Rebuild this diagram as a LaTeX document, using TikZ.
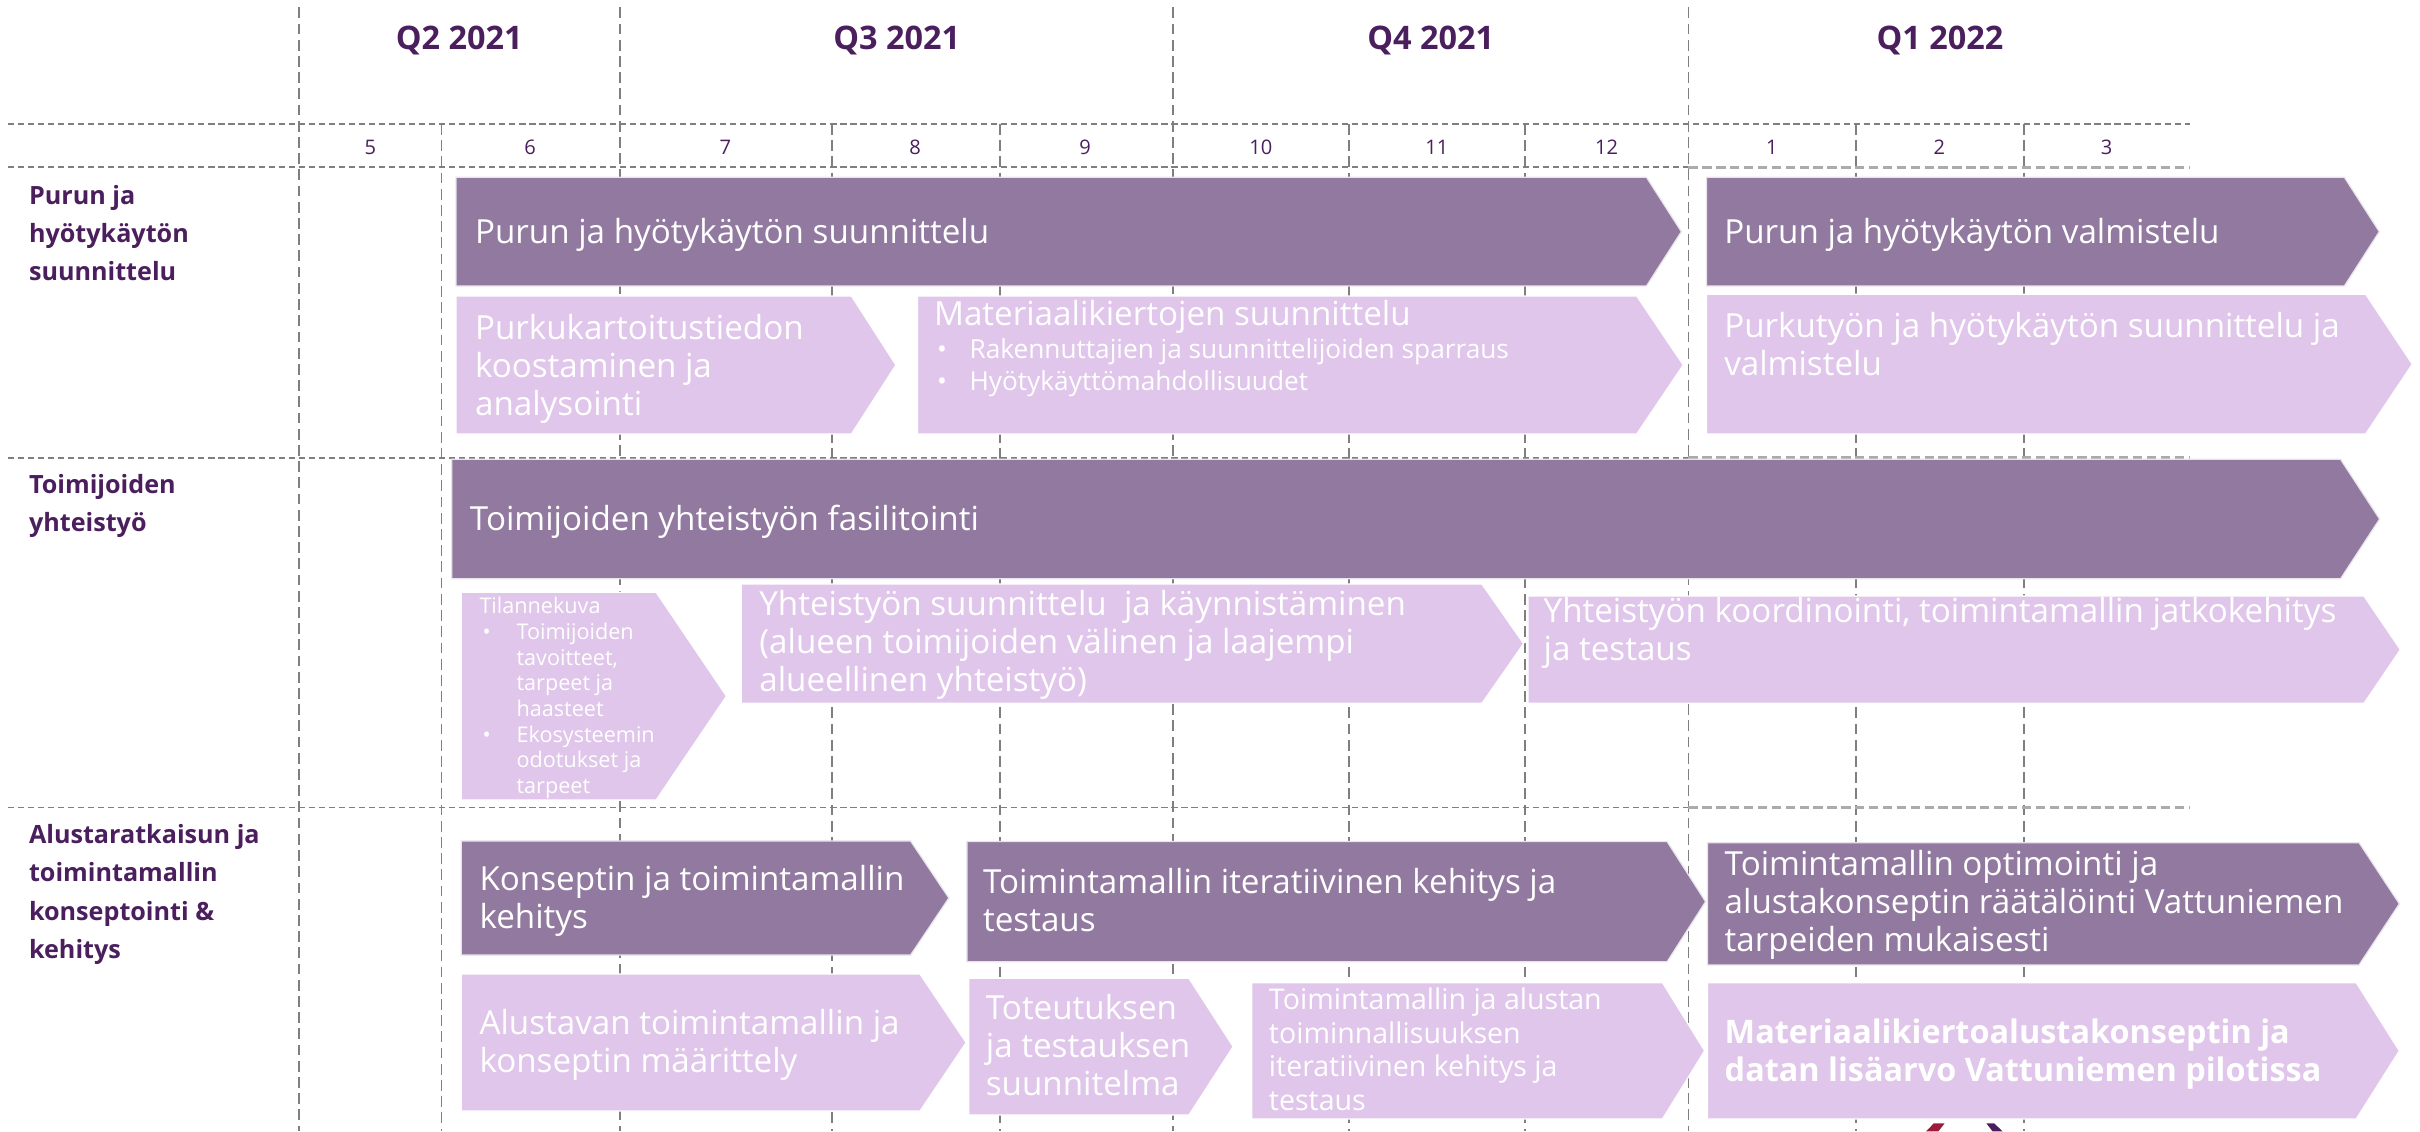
\documentclass[tikz,border=0pt]{standalone}
\usepackage{fontspec}
\setmainfont{Open Sans}
\definecolor{dk}{HTML}{91799F}
\definecolor{lt}{HTML}{E0C6EA}
\definecolor{hd}{HTML}{4B1F5E}
\definecolor{ln}{HTML}{7F7F7F}
\definecolor{lnl}{HTML}{ABABAB}
\definecolor{logored}{HTML}{9B1B3F}
\newcommand\chev[6]{\path[#6] (#1,#2) -- (#3,#2) -- (#4,{(#2+#5)/2}) -- (#3,#5) -- (#1,#5) -- cycle;}
\tikzset{
 vq/.style={draw=ln, line width=1.1pt, dash pattern=on 7pt off 3.5pt},
 hz/.style={draw=ln, line width=1.2pt, dash pattern=on 4pt off 2.5pt},
 hzl/.style={draw=lnl, line width=1.6pt, dash pattern=on 6pt off 3pt},
 darkbox/.style={fill=dk, draw=white!80!dk, line width=0.8pt},
 lightbox/.style={fill=lt, draw=white, line width=0.8pt},
 btxt/.style={text=white, anchor=base west, align=left, inner sep=0pt, font=\fontsize{21.5}{24.6}\selectfont},
 qlab/.style={text=hd, anchor=base, inner sep=0pt, font=\bfseries\fontsize{21}{25}\selectfont},
 mlab/.style={text=hd, anchor=base, inner sep=0pt, font=\fontsize{13}{16}\selectfont},
 rlab/.style={text=hd, anchor=base west, align=left, inner sep=0pt, font=\bfseries\fontsize{16.3}{24.8}\selectfont},
}
\begin{document}
\begin{tikzpicture}[x=1pt,y=-1pt]
\useasboundingbox (0,0) rectangle (1568,733);
% grid lines
\foreach \x in {193.6,401.6,760,1094} \draw[vq] (\x,4.8) -- (\x,733);
\foreach \x in {286,539,648,874,988,1202.4,1311.6} \draw[vq] (\x,80.3) -- (\x,733);
\draw[hz] (5,80.3) -- (1419,80.3);
\foreach \y in {108.4,296.5,523.2} {\draw[hz] (5,\y) -- (1094,\y); \draw[hzl] (1094,\y) -- (1419,\y);}
% quarter labels
\node[qlab] (q2) at (297.5,32) {Q2 2021};
\node[qlab] (q3) at (581,32) {Q3 2021};
\node[qlab] (q4) at (927,32) {Q4 2021};
\node[qlab] (q1) at (1257,32) {Q1 2022};
% month labels
\foreach \x/\m in {240/5,343.5/6,470/7,593/8,703/9,817/10,931/11,1041/12,1148/1,1256.5/2,1365/3}
  \node[mlab] (m\m) at (\x,99.8) {\m};
% row labels (anchor = baseline of last line)
\node[rlab] (r1) at (18.6,181.8) {Purun ja\\hyötykäytön\\suunnittelu};
\node[rlab] (r2) at (18.6,344.5) {Toimijoiden\\yhteistyö};
\node[rlab] (r3) at (18.6,620.9) {Alustaratkaisun ja\\toimintamallin\\konseptointi \&\\kehitys};
% row 1
\chev{295.5}{114.9}{1066.8}{1089.4}{185.3}{darkbox}
\node[btxt] (a1) at (307.6,157.7) {Purun ja hyötykäytön suunnittelu};
\chev{1105.7}{114.9}{1519}{1541.6}{185.3}{darkbox}
\node[btxt] (a2) at (1117,157.7) {Purun ja hyötykäytön valmistelu};
\chev{295.5}{191.8}{551.7}{580.5}{281.2}{lightbox}
\node[btxt] (a3) at (307.6,268.9) {Purkukartoitustiedon\\koostaminen ja\\analysointi};
\chev{594.4}{191.8}{1060.5}{1090.6}{281.2}{lightbox}
\node[btxt] (a4) at (605,210.6) {Materiaalikiertojen suunnittelu};
\node[btxt, font=\fontsize{17}{20.5}\selectfont] (a4b) at (607,252.7) {\makebox[21pt][l]{•}Rakennuttajien ja suunnittelijoiden sparraus\\\makebox[21pt][l]{•}Hyötykäyttömahdollisuudet};
\chev{1105.7}{190.7}{1532.8}{1563}{281.2}{lightbox}
\node[btxt] (a5) at (1117,243) {Purkutyön ja hyötykäytön suunnittelu ja\\valmistelu};
% row 2
\chev{292.7}{297.6}{1516.5}{1541.8}{375}{darkbox}
\node[btxt] (b1) at (304.3,343.8) {Toimijoiden yhteistyön fasilitointi};
\chev{298.9}{383.8}{425.2}{470.7}{518.3}{lightbox}
\node[btxt, font=\fontsize{14}{16.6}\selectfont] (b2) at (310.5,514) {Tilannekuva\\\makebox[24pt][l]{\hspace{2pt}•}Toimijoiden\\\hspace*{24pt}tavoitteet,\\\hspace*{24pt}tarpeet ja\\\hspace*{24pt}haasteet\\\makebox[24pt][l]{\hspace{2pt}•}Ekosysteemin\\\hspace*{24pt}odotukset ja\\\hspace*{24pt}tarpeet};
\chev{480.2}{378.4}{960.2}{987.2}{455.7}{lightbox}
\node[btxt] (b3) at (491.8,448.2) {Yhteistyön suunnittelu\ \ ja käynnistäminen\\(alueen toimijoiden välinen ja laajempi\\alueellinen yhteistyö)};
\chev{990}{386.2}{1531.7}{1555.3}{455.7}{lightbox}
\node[btxt] (b4) at (1000,428) {Yhteistyön koordinointi, toimintamallin jatkokehitys\\ja testaus};
% row 3
\chev{298.9}{544.9}{590}{614.8}{618.8}{darkbox}
\node[btxt] (c1) at (310.5,601.5) {Konseptin ja toimintamallin\\kehitys};
\chev{626.5}{545.3}{1080.2}{1105.1}{623.1}{darkbox}
\node[btxt] (c2) at (636.8,603.6) {Toimintamallin iteratiivinen kehitys ja\\testaus};
\chev{1106.3}{546}{1528.5}{1554.6}{625.2}{darkbox}
\node[btxt] (c3) at (1117.3,616.6) {Toimintamallin optimointi ja\\alustakonseptin räätälöinti Vattuniemen\\tarpeiden mukaisesti};
\chev{298.9}{631.1}{596.1}{626}{719.9}{lightbox}
\node[btxt] (c4) at (310.5,695) {Alustavan toimintamallin ja\\konseptin määrittely};
\chev{627.7}{633.9}{770.4}{799}{722.4}{lightbox}
\node[btxt] (c5) at (638.6,709.5) {Toteutuksen\\ja testauksen\\suunnitelma};
\chev{811.1}{636.7}{1077.2}{1104.5}{725}{lightbox}
\node[btxt, font=\fontsize{18.5}{21.6}\selectfont] (c6) at (822,719.2) {Toimintamallin ja alustan\\toiminnallisuuksen\\iteratiivinen kehitys ja\\testaus};
\chev{1106.3}{636.7}{1526.7}{1554.6}{725}{lightbox}
\node[btxt, font=\bfseries\fontsize{21}{24.8}\selectfont] (c7) at (1117.3,700.8) {Materiaalikiertoalustakonseptin ja\\datan lisäarvo Vattuniemen pilotissa};
% cut-off logo fragment at the bottom edge
\fill[logored] (1253,727.8) -- (1260,727.8) -- (1256,733) -- (1248,733) -- cycle;
\fill[hd] (1287,727.8) -- (1292,727.8) -- (1297.5,733) -- (1291,733) -- cycle;
\end{tikzpicture}
\end{document}
